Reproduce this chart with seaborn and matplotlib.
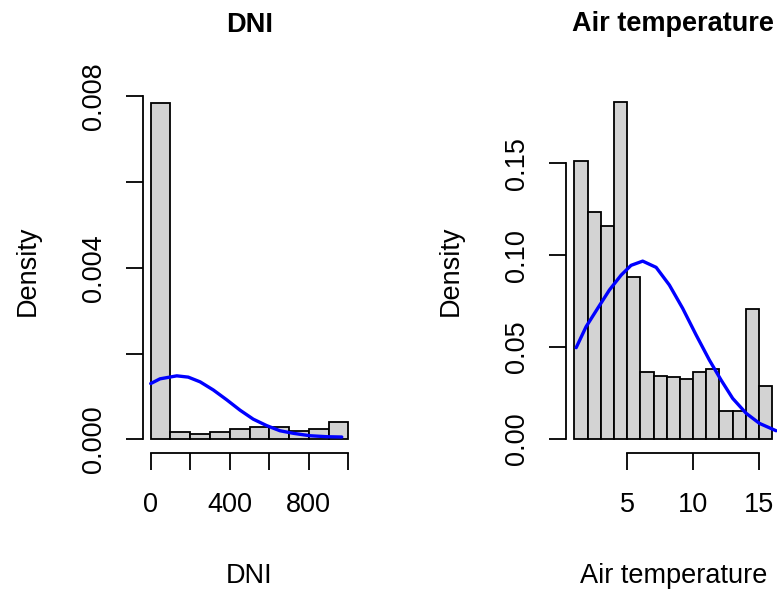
import matplotlib
matplotlib.use("Agg")
import matplotlib.pyplot as plt
import seaborn as sns

# ---------------- data ----------------
dni_edges = [0, 100, 200, 300, 400, 500, 600, 700, 800, 900, 1000]
dni_density = [0.00785, 0.000163, 0.000124, 0.000163, 0.000247,
               0.000294, 0.000294, 0.000200, 0.000247, 0.000410]
dni_curve_x = [0, 47, 132, 190, 250, 317, 385, 452, 519, 587, 654, 722, 806, 891, 967]
dni_curve_y = [0.00130, 0.00141, 0.00148, 0.00145, 0.00134, 0.00115, 0.00092,
               0.00068, 0.00047, 0.00032, 0.00020, 0.00014, 0.000084, 0.000061, 0.000054]
dni_yticks = [0.0, 0.002, 0.004, 0.006, 0.008]
dni_yticklabels = ["0.000", "", "0.004", "", "0.008"]
dni_xticks = [0, 200, 400, 600, 800, 1000]
dni_xticklabels = ["0", "", "400", "", "800", ""]

temp_edges = list(range(1, 17))
temp_density = [0.1511, 0.1233, 0.1159, 0.1835, 0.0880, 0.0363, 0.0345, 0.0336,
                0.0325, 0.0363, 0.0383, 0.0152, 0.0152, 0.0707, 0.0288]
temp_curve_x = [1.14, 1.89, 2.77, 3.66, 4.55, 5.30, 6.18, 7.20, 8.20, 9.21,
                10.23, 11.23, 12.12, 13.0, 14.02, 15.03, 16.29]
temp_curve_y = [0.0497, 0.0611, 0.0711, 0.0811, 0.0892, 0.0945, 0.0968, 0.0934,
                0.0838, 0.0711, 0.0566, 0.0430, 0.0321, 0.0221, 0.0140, 0.0085, 0.0045]
temp_yticks = [0.0, 0.05, 0.10, 0.15]
temp_yticklabels = ["0.00", "0.05", "0.10", "0.15"]
temp_xticks = [5, 10, 15]
temp_xticklabels = ["5", "10", "15"]

# ---------------- style ----------------
sns.set_style("ticks")
plt.rcParams["font.family"] = ["Liberation Sans", "DejaVu Sans"]
plt.rcParams["text.color"] = "black"
plt.rcParams["axes.labelcolor"] = "black"
plt.rcParams["xtick.color"] = "black"
plt.rcParams["ytick.color"] = "black"
plt.rcParams["axes.edgecolor"] = "black"
FS = 19.5
LW = 1.3

W, H = 777, 590
fig = plt.figure(figsize=(W / 100, H / 100), dpi=100)


def px_axes(x0, x1, y0, y1):
    return fig.add_axes([x0 / W, 1 - y1 / H, (x1 - x0) / W, (y1 - y0) / H])


def panel(ax, edges, dens, cx, cy, title, xlabel, xticks, xtl, yticks, ytl,
          xbounds, ybounds, xlab_y, ylab_x):
    centers = [(a + b) / 2 for a, b in zip(edges[:-1], edges[1:])]
    sns.histplot(x=centers, weights=dens, bins=edges, stat="count",
                 color="#D3D3D3", edgecolor="black", linewidth=LW, alpha=1,
                 ax=ax)
    sns.lineplot(x=cx, y=cy, color="#0000FF", linewidth=2.4, sort=False,
                 estimator=None, ax=ax)
    rng = edges[-1] - edges[0]
    ax.set_xlim(edges[0] - 0.04 * rng, edges[-1] + 0.04 * rng)
    ymax = max(dens)
    ax.set_ylim(-0.04 * ymax, 1.04 * ymax)

    ax.set_xticks(xticks, xtl)
    ax.set_yticks(yticks, ytl, rotation=90, va="center")
    ax.tick_params(axis="both", direction="out", length=12, width=LW,
                   labelsize=FS, colors="black")
    ax.tick_params(axis="x", pad=16.5)
    ax.tick_params(axis="y", pad=14)

    sns.despine(ax=ax)
    for s in ("left", "bottom"):
        ax.spines[s].set_linewidth(LW)
        ax.spines[s].set_color("black")
    ax.spines["bottom"].set_bounds(*xbounds)
    ax.spines["left"].set_bounds(*ybounds)

    ax.set_title(title, fontsize=FS, fontweight="bold", pad=41, color="black")
    ax.set_xlabel(xlabel, fontsize=FS, color="black")
    ax.xaxis.label.set_va("baseline")
    ax.xaxis.set_label_coords(0.5, xlab_y)
    ax.set_ylabel("Density", fontsize=FS, color="black")
    ax.yaxis.label.set_va("center")
    ax.yaxis.set_label_coords(ylab_x, 0.5)
    ax.grid(False)


ax1 = px_axes(142.8, 356.2, 89.1, 452.8)
panel(ax1, dni_edges, dni_density, dni_curve_x, dni_curve_y, "DNI", "DNI",
      dni_xticks, dni_xticklabels, dni_yticks, dni_yticklabels,
      (0, 1000), (0, 0.008), -0.357, -0.538)

ax2 = px_axes(566.4, 780.2, 88.3, 452.5)
panel(ax2, temp_edges, temp_density, temp_curve_x, temp_curve_y,
      "Air temperature", "Air temperature",
      temp_xticks, temp_xticklabels, temp_yticks, temp_yticklabels,
      (5, 15), (0, 0.15), -0.358, -0.540)

fig.savefig("out.png", dpi=100)
